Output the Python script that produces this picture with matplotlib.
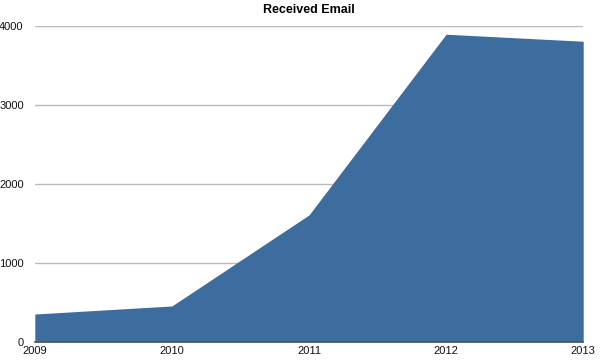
import matplotlib
matplotlib.use("Agg")
import matplotlib.pyplot as plt

years = [2009, 2010, 2011, 2012, 2013]
received = [354, 456, 1608, 3895, 3806]
yticks = [0, 1000, 2000, 3000, 4000]

plt.rcParams['font.family'] = ['Liberation Sans', 'DejaVu Sans']

fig = plt.figure(figsize=(6, 3.6), dpi=100)
ax = fig.add_axes([0.058, 0.05, 0.914, 0.878])
ax.fill_between(years, received, 0, color='#3D6D9E', linewidth=0, zorder=2)
ax.set_xlim(2009, 2013)
ax.set_ylim(0, 4000)
ax.set_yticks(yticks)
ax.set_xticks(years)
ax.yaxis.grid(True, color='#BBBBBB', linewidth=1.0, zorder=1)
ax.set_axisbelow(True)
for s in ['top', 'right', 'left']:
    ax.spines[s].set_visible(False)
ax.spines['bottom'].set_color('#555555')
ax.spines['bottom'].set_linewidth(1.2)
ax.spines['bottom'].set_zorder(3)
ax.tick_params(axis='both', length=0, labelsize=8, colors='#111111')
ax.tick_params(axis='y', pad=8)
ax.tick_params(axis='x', pad=3)
ax.set_title('Received Email', fontsize=9, fontweight='bold', pad=9)
fig.savefig('out.png', dpi=100)
